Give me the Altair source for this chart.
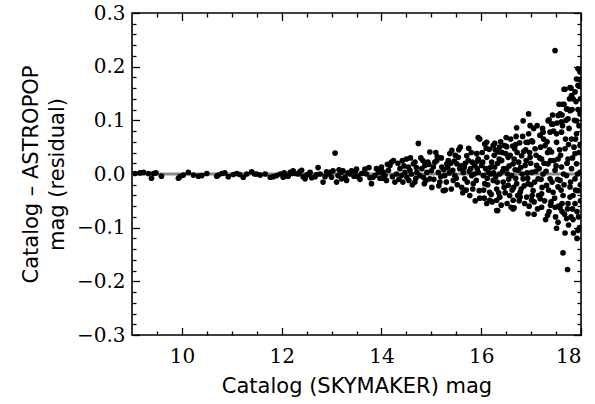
import altair as alt
import pandas as pd

# (catalog magnitude, residual) pairs, grouped by magnitude range
bin_09_12 = [
    (9.06, 0.001), (9.16, 0.002), (9.23, 0.003), (9.33, 0.001), (9.39, -0.008), (9.43, 0.001),
    (9.48, 0.002), (9.59, -0.004), (9.93, -0.008), (9.96, -0.005), (10.03, -0.002), (10.13, 0.003),
    (10.23, -0.002), (10.33, -0.004), (10.40, -0.003), (10.50, 0.001), (10.70, -0.004), (10.73, -0.002),
    (10.80, 0.001), (10.86, 0.002), (10.93, -0.005), (11.03, -0.001), (11.10, 0.001), (11.16, -0.001),
    (11.23, -0.006), (11.30, 0.000), (11.40, 0.004), (11.46, 0.000), (11.50, 0.000), (11.57, -0.002),
    (11.67, 0.000), (11.77, -0.006), (11.83, -0.005), (11.90, -0.003), (11.97, 0.000),
]

bin_12_14 = [
    (12.03, -0.006), (12.10, -0.003), (12.17, 0.003), (12.23, 0.006), (12.27, 0.001), (12.33, 0.000),
    (12.40, 0.007), (12.43, -0.005), (12.47, -0.009), (12.53, 0.000), (12.60, -0.007), (12.67, -0.005),
    (12.73, 0.012), (12.77, 0.000), (12.83, -0.015), (12.87, -0.005), (12.93, 0.000), (12.97, 0.003),
    (13.03, 0.006), (13.07, 0.039), (13.10, -0.015), (13.13, -0.003), (13.19, 0.003), (13.23, 0.006),
    (13.27, -0.006), (13.30, -0.012), (13.37, 0.000), (13.40, 0.006), (13.47, 0.003), (13.53, -0.005),
    (13.60, 0.001), (13.67, 0.009), (13.70, 0.000), (13.77, -0.007), (13.80, -0.018), (13.87, -0.003),
    (13.94, 0.003), (12.05, 0.002), (12.13, -0.004), (12.20, 0.001), (12.36, 0.004), (12.50, -0.002),
    (12.57, 0.003), (12.70, -0.001), (12.90, 0.004), (13.00, -0.006), (13.15, 0.008), (13.20, -0.009),
    (13.33, 0.002), (13.45, -0.004), (13.50, 0.009), (13.57, -0.010), (13.65, 0.002), (13.75, 0.012),
    (13.83, -0.006), (13.90, 0.010), (13.97, -0.008),
]

bin_14_16 = [
    (14.00, 0.007), (14.04, -0.003), (14.00, 0.013), (14.04, 0.003), (14.07, -0.003), (14.10, -0.012),
    (14.14, 0.007), (14.17, 0.016), (14.20, 0.022), (14.24, 0.025), (14.27, -0.015), (14.30, 0.000),
    (14.37, 0.010), (14.40, -0.003), (14.42, 0.025), (14.47, 0.003), (14.51, -0.006), (14.54, 0.013),
    (14.57, 0.007), (14.64, 0.019), (14.67, 0.022), (14.67, -0.015), (14.71, 0.003), (14.74, 0.057),
    (14.77, -0.003), (14.81, 0.010), (14.84, -0.006), (14.87, 0.016), (14.91, 0.003), (14.97, 0.041),
    (14.97, -0.009), (15.01, -0.025), (15.04, 0.013), (15.07, 0.022), (15.11, 0.025), (15.14, 0.003),
    (15.17, -0.015), (15.21, 0.013), (15.24, -0.031), (15.27, -0.003), (15.31, 0.019), (15.34, 0.025),
    (15.37, 0.038), (15.41, 0.044), (15.43, 0.007), (15.44, -0.012), (15.47, -0.003), (15.51, 0.019),
    (15.54, 0.031), (15.57, 0.010), (15.61, -0.025), (15.64, 0.003), (15.67, -0.009), (15.71, 0.034),
    (15.74, 0.025), (15.77, -0.040), (15.79, 0.010), (15.81, -0.003), (15.84, -0.018), (15.87, 0.016),
    (15.91, 0.038), (15.94, 0.068), (15.94, 0.003), (15.96, -0.031),
    (14.02, -0.008), (14.12, 0.018), (14.22, -0.005), (14.33, 0.020), (14.35, -0.010), (14.45, 0.015),
    (14.50, 0.028), (14.55, -0.012), (14.60, 0.000), (14.62, -0.020), (14.70, 0.012), (14.79, 0.030),
    (14.86, -0.018), (14.93, 0.022), (15.00, 0.006), (15.05, -0.010), (15.09, 0.040), (15.15, -0.022),
    (15.20, 0.030), (15.25, 0.008), (15.30, -0.015), (15.36, 0.002), (15.40, -0.028), (15.46, 0.024),
    (15.50, -0.008), (15.55, 0.045), (15.60, 0.015), (15.63, -0.035), (15.68, 0.020), (15.72, -0.015),
    (15.76, 0.005), (15.80, 0.040), (15.83, -0.028), (15.86, 0.000), (15.90, -0.012), (15.93, 0.024),
    (15.97, -0.045),
    (15.52, -0.020), (15.58, 0.050), (15.66, 0.012), (15.70, -0.030), (15.75, 0.048), (15.82, 0.022),
    (15.88, -0.050), (15.92, 0.010), (15.12, 0.032), (15.19, -0.005), (15.28, -0.030), (15.33, 0.012),
    (15.39, 0.020), (15.48, 0.035), (14.83, 0.025), (14.89, -0.012), (14.95, 0.018), (14.69, -0.008),
    (14.58, 0.030), (14.43, -0.015),
]

bin_16_18_core = [
    (15.91, 0.038), (15.94, 0.028), (15.97, 0.065), (16.01, 0.016), (16.04, -0.003), (16.07, 0.056),
    (16.07, -0.018), (16.11, 0.031), (16.14, 0.003), (16.17, -0.034), (16.21, 0.022), (16.24, 0.053),
    (16.24, -0.012), (16.27, 0.013), (16.31, -0.028), (16.34, 0.041), (16.37, 0.000), (16.37, -0.043),
    (16.41, 0.025), (16.44, -0.015), (16.47, 0.053), (16.51, 0.010), (16.54, -0.021), (16.54, 0.031),
    (16.57, -0.040), (16.61, -0.003), (16.64, 0.019), (16.67, 0.047), (16.71, -0.018), (16.74, 0.007),
    (16.78, -0.034), (16.81, 0.034), (16.84, -0.009), (16.88, 0.016), (16.91, -0.043), (16.94, 0.059),
    (16.94, -0.018), (16.98, 0.031), (17.01, 0.003), (17.04, -0.031), (17.08, 0.047), (17.11, 0.016),
    (17.14, -0.009), (17.18, 0.072), (17.21, 0.028), (17.21, -0.037), (17.24, 0.000), (17.28, 0.053),
    (17.31, -0.021), (17.34, 0.019), (17.38, 0.078), (17.38, -0.009), (17.41, 0.041), (17.44, -0.034),
    (17.48, 0.007), (17.51, 0.059), (17.54, 0.028), (17.54, -0.024), (17.58, -0.012), (17.61, 0.078),
    (17.61, 0.013), (17.64, -0.040), (17.68, 0.047), (17.71, -0.003), (17.74, 0.028), (17.78, -0.024),
    (17.81, 0.065), (17.81, 0.010), (17.84, -0.040), (17.88, 0.038), (17.88, -0.009), (17.91, 0.075),
    (17.91, 0.019), (17.94, -0.031), (17.98, 0.053), (17.98, 0.003),
    (16.02, 0.040), (16.05, -0.030), (16.09, 0.010), (16.12, -0.008), (16.16, 0.046), (16.19, 0.000),
    (16.22, -0.052), (16.26, 0.035), (16.29, -0.005), (16.33, 0.020), (16.35, -0.035), (16.39, 0.060),
    (16.43, 0.005), (16.46, -0.025), (16.49, 0.038), (16.52, -0.055), (16.56, 0.015), (16.59, 0.065),
    (16.62, -0.030), (16.66, 0.028), (16.69, -0.008), (16.72, 0.040), (16.76, -0.050), (16.79, 0.012),
    (16.83, 0.070), (16.86, -0.022), (16.89, 0.045), (16.92, 0.002), (16.96, -0.060), (16.99, 0.020),
    (17.02, -0.040), (17.05, 0.085), (17.07, -0.015), (17.10, 0.035), (17.13, -0.065), (17.16, 0.010),
    (17.19, 0.050), (17.22, -0.025), (17.25, 0.065), (17.27, -0.050), (17.30, 0.005), (17.33, 0.040),
    (17.36, -0.070), (17.39, 0.025), (17.42, -0.015), (17.45, 0.080), (17.47, -0.045), (17.50, 0.015),
    (17.52, 0.095), (17.55, -0.060), (17.57, 0.045), (17.60, -0.030), (17.62, 0.110), (17.65, 0.000),
    (17.67, -0.075), (17.69, 0.065), (17.72, 0.020), (17.75, -0.095), (17.76, 0.085), (17.79, -0.015),
    (17.82, 0.120), (17.83, -0.065), (17.86, 0.050), (17.89, -0.030), (17.90, 0.135), (17.93, 0.000),
    (17.95, -0.080), (17.96, 0.090), (17.99, -0.050), (17.99, 0.140),
]

bin_16_18_fill = [
    (16.03, 0.022), (16.06, -0.045), (16.10, 0.048), (16.13, -0.020), (16.18, 0.012), (16.20, -0.038),
    (16.25, 0.002), (16.28, 0.045), (16.32, -0.015), (16.36, 0.028), (16.40, -0.058), (16.42, 0.040),
    (16.45, 0.010), (16.48, -0.035), (16.50, 0.068), (16.53, 0.000), (16.55, -0.010), (16.58, 0.035),
    (16.60, -0.062), (16.63, 0.052), (16.65, -0.025), (16.68, 0.008), (16.70, 0.070), (16.73, -0.040),
    (16.75, 0.022), (16.77, 0.058), (16.80, -0.028), (16.82, 0.000), (16.85, 0.042), (16.87, -0.055),
    (16.90, 0.025), (16.93, -0.008), (16.95, 0.075), (16.97, 0.040), (17.00, -0.020), (17.03, 0.060),
    (17.06, -0.075), (17.09, 0.005), (17.12, 0.090), (17.15, -0.040), (17.17, 0.030), (17.20, -0.010),
    (17.23, 0.085), (17.26, 0.020), (17.29, -0.085), (17.32, 0.060), (17.35, -0.030), (17.37, 0.045),
    (17.40, -0.052), (17.43, 0.110), (17.46, 0.025), (17.49, -0.080), (17.51, 0.075), (17.53, -0.010),
    (17.56, 0.130), (17.59, 0.035), (17.62, -0.055), (17.63, 0.090), (17.66, -0.020), (17.70, 0.100),
    (17.73, -0.065), (17.75, 0.055), (17.77, 0.140), (17.80, -0.080), (17.83, 0.030), (17.85, -0.110),
    (17.87, 0.100), (17.89, 0.065), (17.92, -0.070), (17.94, 0.120), (17.96, 0.040), (17.97, -0.100),
    (17.99, 0.175), (17.99, -0.020),
]

bin_16_18_high = [
    (17.48, 0.230), (17.94, 0.196), (17.98, 0.190), (17.91, 0.177), (17.94, 0.165), (17.88, 0.153),
    (17.66, 0.158), (17.80, 0.160), (17.84, 0.140), (17.81, 0.146), (17.66, 0.130), (17.71, 0.121),
    (17.78, 0.118), (16.95, 0.112), (16.84, 0.099), (16.71, 0.086), (16.98, 0.090), (17.36, 0.101),
    (17.54, 0.109), (17.61, 0.097), (17.74, 0.103), (17.91, 0.099), (17.41, 0.093), (17.98, 0.112),
    (16.11, 0.059), (16.27, 0.057), (16.37, 0.050), (16.51, 0.051), (16.69, 0.055), (16.90, 0.059),
    (17.01, 0.062), (17.18, 0.072), (17.24, 0.078), (17.34, 0.099), (17.44, 0.093), (17.58, 0.112),
    (17.68, 0.158), (17.78, 0.161), (17.63, 0.130), (17.73, 0.121),
]

bin_16_18_low = [
    (16.11, -0.055), (16.17, -0.049), (16.31, -0.049), (16.37, -0.043), (16.31, -0.068), (16.64, -0.049),
    (16.66, -0.063), (16.78, -0.043), (16.94, -0.074), (17.01, -0.049), (17.06, -0.052), (17.18, -0.046),
    (17.21, -0.062), (17.33, -0.077), (17.39, -0.058), (17.48, -0.062), (17.58, -0.063), (17.62, -0.070),
    (17.54, -0.090), (17.51, -0.101), (17.68, -0.110), (17.71, -0.083), (17.84, -0.085), (17.94, -0.105),
    (17.92, -0.120), (17.64, -0.147), (17.73, -0.178), (17.78, -0.043), (17.88, -0.055), (17.74, -0.055),
    (16.33, -0.068), (16.64, -0.065),
]

ref_level = [0.0]

x_major = [10, 12, 14, 16, 18]
x_minor = [9.5, 10.5, 11.0, 11.5, 12.5, 13.0, 13.5, 14.5, 15.0, 15.5, 16.5, 17.0, 17.5]
y_major = [-0.3, -0.2, -0.1, 0.0, 0.1, 0.2, 0.3]
y_minor = [-0.28, -0.26, -0.24, -0.22, -0.18, -0.16, -0.14, -0.12, -0.08, -0.06, -0.04, -0.02,
           0.02, 0.04, 0.06, 0.08, 0.12, 0.14, 0.16, 0.18, 0.22, 0.24, 0.26, 0.28]

x_title = "Catalog (SKYMAKER) mag"
y_title = ["Catalog – ASTROPOP", "mag (residual)"]

pairs = (bin_09_12 + bin_12_14 + bin_14_16 + bin_16_18_core + bin_16_18_fill
         + bin_16_18_high + bin_16_18_low)
df = pd.DataFrame({"mag": [p[0] for p in pairs], "resid": [p[1] for p in pairs]})
ref_df = pd.DataFrame({"level": ref_level})

xs = alt.Scale(domain=[9, 18], nice=False, zero=False)
ys = alt.Scale(domain=[-0.3, 0.3], nice=False, zero=False)

MAJ = 7.5
MIN = 4

common = dict(domain=False, grid=False, tickColor="black", tickWidth=1.3)


def tick_axis(orient, values, size):
    return alt.Axis(orient=orient, values=values, tickSize=size, offset=-size, labels=False, **common)


x_main_axis = alt.Axis(
    orient="bottom", values=x_major, tickSize=MAJ, offset=-MAJ, format="d",
    labelFont="DejaVu Serif", labelFontSize=20, labelColor="black", labelPadding=11,
    titleFont="DejaVu Sans", titleFontSize=21, titleFontWeight="normal", titleColor="black",
    titleBaseline="alphabetic", titleY=65, **common,
)
y_main_axis = alt.Axis(
    orient="left", values=y_major, tickSize=MAJ, offset=-MAJ, format=".1f",
    labelFont="DejaVu Serif", labelFontSize=20, labelColor="black", labelPadding=7,
    titleFont="DejaVu Sans", titleFontSize=21, titleFontWeight="normal", titleColor="black",
    titleBaseline="middle", titleX=-108, titleLineHeight=26, **common,
)

ref_rule = alt.Chart(ref_df).mark_rule(color="#8a8a8a", strokeWidth=3).encode(
    y=alt.Y("level:Q", scale=ys, axis=None)
)

pts = alt.Chart(df).mark_circle(size=32, color="black", opacity=1, clip=True).encode(
    x=alt.X("mag:Q", scale=xs, axis=x_main_axis, title=x_title),
    y=alt.Y("resid:Q", scale=ys, axis=y_main_axis, title=y_title),
)


def hidden(xaxis, yaxis):
    return alt.Chart(df).mark_circle(size=1, opacity=0).encode(
        x=alt.X("mag:Q", scale=xs, axis=xaxis, title=None),
        y=alt.Y("resid:Q", scale=ys, axis=yaxis, title=None),
    )


h1 = hidden(tick_axis("bottom", x_minor, MIN), tick_axis("left", y_minor, MIN))
h2 = hidden(tick_axis("top", x_major, MAJ), tick_axis("right", y_major, MAJ))
h3 = hidden(tick_axis("top", x_minor, MIN), tick_axis("right", y_minor, MIN))

chart = (
    alt.layer(ref_rule, pts, h1, h2, h3)
    .resolve_axis(x="independent", y="independent")
    .properties(
        width=449, height=322,
        autosize=alt.AutoSizeParams(type="none"),
        padding={"left": 132, "top": 13, "right": 14, "bottom": 69},
        background="white",
    )
    .configure_view(stroke="black", strokeWidth=1.6)
)

chart.save("out.html", embed_options={"renderer": "svg", "actions": False})
